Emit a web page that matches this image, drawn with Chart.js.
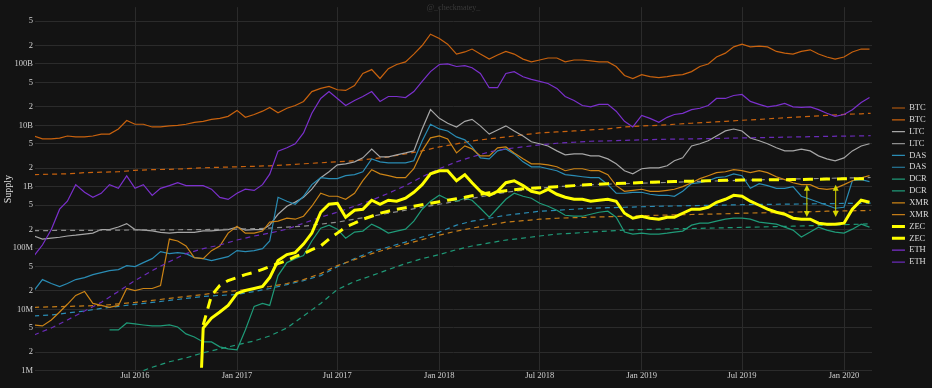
<!DOCTYPE html>
<html>
<head>
<meta charset="utf-8">
<script src="https://cdn.jsdelivr.net/npm/chart.js@4.4.1/dist/chart.umd.min.js"></script>
<style>
  html, body { margin: 0; padding: 0; background: #131313; }
  canvas { display: block; }
</style>
</head>
<body>
<canvas id="supplyChart" width="932" height="388"></canvas>
<script>
// Semi-monthly sample dates for the solid (market) series
var dates = [
    '2016-01-01', '2016-01-16', '2016-02-01', '2016-02-16', '2016-03-01', '2016-03-16', '2016-04-01', '2016-04-16',
    '2016-05-01', '2016-05-16', '2016-06-01', '2016-06-16', '2016-07-01', '2016-07-16', '2016-08-01', '2016-08-16',
    '2016-09-01', '2016-09-16', '2016-10-01', '2016-10-16', '2016-10-29', '2016-11-01', '2016-11-16', '2016-12-01', '2016-12-16',
    '2017-01-01', '2017-01-16', '2017-02-01', '2017-02-16', '2017-03-01', '2017-03-16', '2017-04-01', '2017-04-16',
    '2017-05-01', '2017-05-16', '2017-06-01', '2017-06-16', '2017-07-01', '2017-07-16', '2017-08-01', '2017-08-16',
    '2017-09-01', '2017-09-16', '2017-10-01', '2017-10-16', '2017-11-01', '2017-11-16', '2017-12-01', '2017-12-16',
    '2018-01-01', '2018-01-16', '2018-02-01', '2018-02-16', '2018-03-01', '2018-03-16', '2018-04-01', '2018-04-16',
    '2018-05-01', '2018-05-16', '2018-06-01', '2018-06-16', '2018-07-01', '2018-07-16', '2018-08-01', '2018-08-16',
    '2018-09-01', '2018-09-16', '2018-10-01', '2018-10-16', '2018-11-01', '2018-11-16', '2018-12-01', '2018-12-16',
    '2019-01-01', '2019-01-16', '2019-02-01', '2019-02-16', '2019-03-01', '2019-03-16', '2019-04-01', '2019-04-16',
    '2019-05-01', '2019-05-16', '2019-06-01', '2019-06-16', '2019-07-01', '2019-07-16', '2019-08-01', '2019-08-16',
    '2019-09-01', '2019-09-16', '2019-10-01', '2019-10-16', '2019-11-01', '2019-11-16', '2019-12-01', '2019-12-16',
    '2020-01-01', '2020-01-16', '2020-02-01', '2020-02-16'
];

// Monthly sample dates for the dashed (trend) series
var trendDates = [
    '2016-01-01', '2016-02-01', '2016-03-01', '2016-04-01', '2016-05-01', '2016-06-01',
    '2016-07-01', '2016-08-01', '2016-09-01', '2016-10-01', '2016-11-01', '2016-12-01',
    '2017-01-01', '2017-02-01', '2017-03-01', '2017-04-01', '2017-05-01', '2017-06-01',
    '2017-07-01', '2017-08-01', '2017-09-01', '2017-10-01', '2017-11-01', '2017-12-01',
    '2018-01-01', '2018-02-01', '2018-03-01', '2018-04-01', '2018-05-01', '2018-06-01',
    '2018-07-01', '2018-08-01', '2018-09-01', '2018-10-01', '2018-11-01', '2018-12-01',
    '2019-01-01', '2019-02-01', '2019-03-01', '2019-04-01', '2019-05-01', '2019-06-01',
    '2019-07-01', '2019-08-01', '2019-09-01', '2019-10-01', '2019-11-01', '2019-12-01',
    '2020-01-01', '2020-02-01', '2020-02-18'
];

var btcSupply = [
    6.7e9, 6.0e9, 6.0e9, 6.2e9, 6.7e9, 6.5e9, 6.5e9, 6.7e9, 7.2e9, 7.2e9, 8.7e9, 1.2e10, 1.04e10, 1.04e10, 9.4e9, 9.4e9,
    9.8e9, 1.0e10, 1.04e10, 1.12e10, null, 1.16e10, 1.25e10, 1.3e10, 1.4e10,
    1.75e10, 1.35e10, 1.5e10, 1.7e10, 1.96e10, 1.6e10, 1.9e10, 2.1e10, 2.45e10, 3.55e10, 4.0e10, 4.3e10,
    3.8e10, 3.7e10, 4.45e10, 7.0e10, 8.1e10, 5.8e10, 8.4e10, 9.8e10, 1.08e11, 1.45e11, 2.0e11, 3.06e11,
    2.6e11, 2.1e11, 1.45e11, 1.57e11, 1.75e11, 1.45e11, 1.2e11, 1.4e11, 1.6e11, 1.45e11, 1.2e11, 1.08e11,
    1.16e11, 1.25e11, 1.25e11, 1.08e11, 1.16e11, 1.16e11, 1.12e11, 1.08e11, 1.08e11, 9.1e10, 6.5e10, 5.8e10,
    6.7e10, 6.2e10, 6.0e10, 6.2e10, 6.5e10, 6.7e10, 7.5e10, 9.1e10, 1.0e11, 1.3e11, 1.5e11, 1.9e11,
    2.1e11, 1.9e11, 1.96e11, 1.9e11, 1.6e11, 1.5e11, 1.45e11, 1.6e11, 1.7e11, 1.45e11, 1.3e11, 1.2e11,
    1.3e11, 1.57e11, 1.75e11, 1.75e11
];
var ltcSupply = [
    1.57e8, 1.4e8, 1.45e8, 1.5e8, 1.57e8, 1.62e8, 1.69e8, 1.75e8, 2.0e8, 2.0e8, 2.2e8, 2.5e8, 2.0e8, 1.96e8, 1.9e8, 1.8e8,
    1.75e8, 1.8e8, 1.8e8, 1.8e8, null, 1.9e8, 1.9e8, 1.96e8, 2.0e8,
    2.2e8, 1.96e8, 2.0e8, 2.0e8, 2.36e8, 3.55e8, 4.8e8, 5.6e8, 6.7e8, 9.1e8, 1.4e9, 1.75e9,
    2.27e9, 2.36e9, 2.54e9, 2.95e9, 4.1e9, 3.06e9, 3.06e9, 3.3e9, 3.55e9, 3.83e9, 8.7e9, 1.8e10,
    1.3e10, 1.08e10, 9.4e9, 1.16e10, 1.25e10, 9.8e9, 7.2e9, 8.4e9, 9.8e9, 8.1e9, 6.7e9, 5.4e9,
    5.0e9, 4.6e9, 3.83e9, 3.3e9, 3.42e9, 3.42e9, 3.18e9, 3.18e9, 2.84e9, 2.36e9, 1.82e9, 1.62e9,
    1.96e9, 2.03e9, 2.03e9, 2.19e9, 2.64e9, 2.95e9, 4.6e9, 5.0e9, 5.6e9, 6.7e9, 8.1e9, 8.7e9,
    8.1e9, 6.2e9, 5.6e9, 5.0e9, 4.3e9, 3.83e9, 3.83e9, 4.1e9, 3.83e9, 3.18e9, 2.84e9, 2.64e9,
    2.95e9, 3.83e9, 4.6e9, 5.0e9
];
var dasSupply = [
    2.03e7, 3.06e7, 2.64e7, 2.36e7, 2.64e7, 3.06e7, 3.3e7, 3.69e7, 3.98e7, 4.29e7, 4.45e7, 5.17e7, 4.98e7, 5.79e7, 6.72e7, 8.73e7,
    8.1e7, 8.41e7, 8.1e7, 6.98e7, null, 6.72e7, 6.24e7, 6.72e7, 7.24e7,
    9.07e7, 8.73e7, 9.07e7, 9.77e7, 1.3e8, 6.72e8, 5.79e8, 5.17e8, 6.98e8, 1.08e9, 1.4e9, 1.35e9,
    1.35e9, 1.51e9, 1.57e9, 1.75e9, 2.84e9, 2.54e9, 2.45e9, 2.45e9, 2.45e9, 2.64e9, 5.57e9, 1.04e10,
    8.73e9, 8.1e9, 6.47e9, 5.79e9, 4.45e9, 2.95e9, 2.84e9, 3.83e9, 4.13e9, 3.42e9, 2.54e9, 2.11e9,
    2.11e9, 1.96e9, 1.82e9, 1.57e9, 1.51e9, 1.45e9, 1.4e9, 1.4e9, 1.08e9, 7.81e8, 7.81e8, 8.1e8,
    8.1e8, 7.52e8, 7.24e8, 7.24e8, 6.98e8, 8.41e8, 1.12e9, 1.16e9, 1.25e9, 1.4e9, 1.45e9, 1.62e9,
    1.51e9, 9.41e8, 1.12e9, 1.04e9, 9.41e8, 9.41e8, 1.0e9, 6.98e8, 6.24e8, 5.57e8, 4.98e8, 4.45e8,
    4.62e8, 1.25e9, 1.3e9, 1.21e9
];
var dcrSupply = [
    null, null, null, null, null, null, null, null, null, 4.62e6, 4.62e6, 6.01e6, 5.79e6, 5.57e6, 5.37e6, 5.37e6,
    5.57e6, 5.17e6, 3.98e6, 3.55e6, null, 2.95e6, 2.95e6, 2.45e6, 2.27e6,
    2.19e6, 4.62e6, 1.12e7, 1.25e7, 1.16e7, 3.55e7, 5.79e7, 6.72e7, 7.52e7, 1.3e8, 2.11e8, 2.36e8,
    2.03e8, 1.45e8, 1.82e8, 1.89e8, 2.45e8, 2.11e8, 1.75e8, 1.89e8, 2.03e8, 2.74e8, 4.29e8, 5.79e8,
    7.24e8, 6.24e8, 5.79e8, 6.47e8, 6.01e8, 4.45e8, 3.18e8, 4.45e8, 6.24e8, 7.81e8, 6.98e8, 6.47e8,
    5.37e8, 4.8e8, 4.13e8, 3.42e8, 3.3e8, 3.3e8, 3.55e8, 3.83e8, 3.98e8, 3.18e8, 1.82e8, 1.69e8,
    1.75e8, 1.69e8, 1.69e8, 1.75e8, 1.82e8, 1.89e8, 2.36e8, 2.54e8, 2.54e8, 2.74e8, 2.95e8, 3.06e8,
    3.06e8, 2.95e8, 2.64e8, 2.54e8, 2.45e8, 2.19e8, 1.96e8, 1.51e8, 1.82e8, 2.19e8, 1.96e8, 1.82e8,
    1.75e8, 2.03e8, 2.45e8, 2.19e8
];
var xmrSupply = [
    5.57e6, 5.37e6, 6.72e6, 9.07e6, 1.21e7, 1.69e7, 1.96e7, 1.25e7, 1.16e7, 1.08e7, 1.16e7, 2.19e7, 2.03e7, 2.19e7, 2.19e7, 2.45e7,
    1.4e8, 1.3e8, 1.08e8, 6.98e7, null, 6.72e7, 9.07e7, 1.08e8, 1.75e8,
    2.27e8, 1.75e8, 1.75e8, 1.89e8, 2.64e8, 2.74e8, 3.06e8, 2.95e8, 3.3e8, 4.8e8, 7.81e8, 6.98e8,
    6.98e8, 6.24e8, 7.81e8, 1.25e9, 1.89e9, 1.62e9, 1.51e9, 1.4e9, 1.4e9, 1.96e9, 3.83e9, 6.24e9,
    6.72e9, 6.01e9, 3.55e9, 4.62e9, 4.13e9, 3.18e9, 3.18e9, 4.29e9, 4.45e9, 3.55e9, 2.84e9, 2.36e9,
    2.36e9, 2.27e9, 2.11e9, 1.82e9, 1.96e9, 1.96e9, 1.82e9, 1.82e9, 1.57e9, 1.04e9, 8.41e8, 8.73e8,
    9.07e8, 8.41e8, 8.41e8, 8.73e8, 9.07e8, 1.0e9, 1.16e9, 1.35e9, 1.51e9, 1.69e9, 1.75e9, 1.89e9,
    1.82e9, 1.69e9, 1.82e9, 1.69e9, 1.45e9, 1.3e9, 1.16e9, 1.08e9, 1.08e9, 9.41e8, 9.07e8, 9.41e8,
    1.08e9, 1.25e9, 1.4e9, 1.51e9
];
var zecSupply = [
    null, null, null, null, null, null, null, null, null, null, null, null, null, null, null, null,
    null, null, null, null, 1.12e6, 4.98e6, 7.24e6, 9.07e6, 1.16e7,
    1.82e7, 2.03e7, 2.19e7, 2.36e7, 3.3e7, 6.24e7, 7.81e7, 8.41e7, 1.16e8, 1.75e8, 3.83e8, 5.17e8,
    5.37e8, 3.18e8, 4.13e8, 4.29e8, 6.01e8, 5.17e8, 6.01e8, 5.79e8, 6.47e8, 8.1e8, 1.08e9, 1.62e9,
    1.82e9, 1.82e9, 1.25e9, 1.57e9, 1.16e9, 8.41e8, 7.24e8, 8.41e8, 1.16e9, 1.25e9, 1.04e9, 8.41e8,
    7.81e8, 9.07e8, 7.52e8, 6.72e8, 6.24e8, 6.24e8, 5.79e8, 6.01e8, 6.24e8, 5.79e8, 3.69e8, 3.06e8,
    3.3e8, 3.06e8, 2.95e8, 3.18e8, 3.18e8, 3.69e8, 4.29e8, 4.29e8, 4.62e8, 5.57e8, 6.24e8, 7.24e8,
    6.98e8, 5.79e8, 4.98e8, 4.29e8, 3.83e8, 3.55e8, 3.06e8, 2.95e8, 2.95e8, 2.54e8, 2.45e8, 2.45e8,
    2.54e8, 4.29e8, 6.01e8, 5.57e8
];
var zecTrend = [
    null, null, null, null, null, null, null, null, null, null, null, null, null, null, null, null,
    null, null, null, null, null, 5.57e6, 1.69e7, 2.45e7, 2.95e7,
    3.3e7, 3.69e7, 4.02e7, 4.5e7, 4.98e7, 5.57e7, 6.24e7, 7.24e7, 8.1e7, 9.41e7, 1.08e8, 1.4e8,
    1.75e8, 2.19e8, 2.54e8, 2.95e8, 3.3e8, 3.69e8, 3.98e8, 4.29e8, 4.54e8, 4.8e8, 5.07e8, 5.37e8,
    5.68e8, 6.01e8, 6.36e8, 6.72e8, 7.1e8, 7.52e8, 7.95e8, 8.25e8, 8.57e8, 8.9e8, 9.24e8, 9.41e8,
    9.6e8, 9.8e8, 1.0e9, 1.02e9, 1.04e9, 1.06e9, 1.08e9, 1.1e9, 1.12e9, 1.13e9, 1.14e9, 1.15e9,
    1.17e9, 1.18e9, 1.19e9, 1.2e9, 1.21e9, 1.22e9, 1.23e9, 1.24e9, 1.25e9, 1.26e9, 1.27e9, 1.27e9,
    1.28e9, 1.28e9, 1.29e9, 1.29e9, 1.3e9, 1.3e9, 1.31e9, 1.31e9, 1.32e9, 1.32e9, 1.33e9, 1.33e9,
    1.34e9, 1.34e9, 1.35e9, 1.35e9
];
var ethSupply = [
    7.5e7, 1.12e8, 2.0e8, 4.3e8, 5.8e8, 1.08e9, 8.1e8, 6.7e8, 7.8e8, 1.08e9, 9.4e8, 1.5e9, 9.4e8, 1.08e9, 7.2e8, 9.4e8,
    1.04e9, 1.16e9, 1.04e9, 1.04e9, null, 1.04e9, 9.1e8, 6.7e8, 6.2e8,
    7.8e8, 9.1e8, 8.7e8, 1.08e9, 1.6e9, 3.8e9, 4.3e9, 5.0e9, 7.5e9, 1.57e10, 2.74e10, 3.55e10,
    2.74e10, 2.1e10, 2.54e10, 2.95e10, 3.55e10, 2.45e10, 2.95e10, 2.95e10, 2.84e10, 3.55e10, 5.2e10, 7.5e10,
    9.8e10, 1.0e11, 9.1e10, 9.4e10, 8.7e10, 7.0e10, 4.1e10, 4.1e10, 7.0e10, 7.5e10, 6.2e10, 5.6e10,
    5.2e10, 4.8e10, 4.0e10, 2.95e10, 2.54e10, 2.1e10, 2.0e10, 2.2e10, 2.2e10, 1.7e10, 1.16e10, 9.4e9,
    1.45e10, 1.3e10, 1.12e10, 1.35e10, 1.5e10, 1.57e10, 1.8e10, 1.9e10, 2.1e10, 2.74e10, 2.74e10, 3.06e10,
    3.18e10, 2.45e10, 2.2e10, 2.0e10, 2.1e10, 2.27e10, 2.0e10, 1.96e10, 2.0e10, 1.8e10, 1.57e10, 1.4e10,
    1.5e10, 1.8e10, 2.36e10, 2.84e10
];

// Dashed trend lines (monthly)
var btcTrend = [
    1.57e9, 1.6e9, 1.62e9, 1.69e9, 1.72e9, 1.75e9, 1.85e9, 1.89e9, 1.92e9, 1.96e9, 2.03e9, 2.07e9,
    2.11e9, 2.15e9, 2.19e9, 2.27e9, 2.36e9, 2.45e9, 2.54e9, 2.64e9, 2.84e9, 3.06e9, 3.42e9, 3.83e9,
    4.45e9, 4.98e9, 5.57e9, 6.01e9, 6.47e9, 6.98e9, 7.52e9, 7.81e9, 8.1e9, 8.41e9, 8.73e9, 9.41e9,
    9.77e9, 1.0e10, 1.04e10, 1.08e10, 1.12e10, 1.16e10, 1.21e10, 1.25e10, 1.3e10, 1.35e10, 1.4e10, 1.45e10,
    1.51e10, 1.54e10, 1.57e10
];
var ltcTrend = [
    1.92e8, 1.93e8, 1.94e8, 1.94e8, 1.95e8, 1.96e8, 1.97e8, 1.97e8, 1.98e8, 1.99e8, 2.0e8, 2.02e8,
    2.03e8, 2.07e8, 2.11e8, 2.19e8, 2.27e8, 2.45e8, 2.64e8, 2.95e8, 3.3e8, 3.69e8, 4.13e8, 4.62e8,
    5.17e8, 5.79e8, 6.47e8, 7.24e8, 8.1e8, 8.73e8, 9.41e8, 1.0e9, 1.04e9, 1.08e9, 1.1e9, 1.12e9,
    1.14e9, 1.16e9, 1.18e9, 1.21e9, 1.23e9, 1.25e9, 1.27e9, 1.29e9, 1.32e9, 1.34e9, 1.35e9, 1.37e9,
    1.38e9, 1.4e9, 1.41e9
];
var dasTrend = [
    7.81e6, 8.1e6, 8.73e6, 9.41e6, 1.04e7, 1.12e7, 1.21e7, 1.3e7, 1.4e7, 1.51e7, 1.62e7, 1.69e7,
    1.75e7, 1.96e7, 2.19e7, 2.54e7, 2.95e7, 3.55e7, 4.98e7, 6.72e7, 8.73e7, 1.04e8, 1.25e8, 1.51e8,
    1.82e8, 2.36e8, 2.74e8, 3.06e8, 3.42e8, 3.69e8, 3.98e8, 4.13e8, 4.29e8, 4.45e8, 4.54e8, 4.62e8,
    4.71e8, 4.8e8, 4.85e8, 4.91e8, 4.96e8, 5.02e8, 5.08e8, 5.14e8, 5.17e8, 5.21e8, 5.25e8, 5.29e8,
    5.33e8, 5.37e8, 5.39e8
];
var dcrTrend = [
    null, null, null, null, null, 6.9e5, 8.9e5, 1.14e6, 1.4e6, 1.62e6, 1.96e6, 2.27e6,
    2.64e6, 3.06e6, 3.69e6, 4.98e6, 7.81e6, 1.25e7, 2.11e7, 2.84e7, 3.55e7, 4.45e7, 5.57e7, 6.72e7,
    7.81e7, 9.41e7, 1.08e8, 1.21e8, 1.35e8, 1.45e8, 1.57e8, 1.69e8, 1.75e8, 1.82e8, 1.89e8, 1.96e8,
    2.0e8, 2.03e8, 2.06e8, 2.08e8, 2.11e8, 2.14e8, 2.17e8, 2.2e8, 2.24e8, 2.27e8, 2.31e8, 2.36e8,
    2.4e8, 2.45e8, 2.5e8
];
var xmrTrend = [
    1.08e7, 1.1e7, 1.12e7, 1.14e7, 1.16e7, 1.23e7, 1.3e7, 1.4e7, 1.51e7, 1.62e7, 1.75e7, 1.89e7,
    2.03e7, 2.19e7, 2.36e7, 2.64e7, 3.06e7, 3.83e7, 5.17e7, 6.47e7, 8.1e7, 9.77e7, 1.16e8, 1.37e8,
    1.62e8, 1.89e8, 2.11e8, 2.36e8, 2.64e8, 2.79e8, 2.95e8, 3.06e8, 3.12e8, 3.18e8, 3.24e8, 3.3e8,
    3.36e8, 3.42e8, 3.47e8, 3.52e8, 3.57e8, 3.62e8, 3.69e8, 3.74e8, 3.79e8, 3.85e8, 3.9e8, 3.98e8,
    4.02e8, 4.07e8, 4.1e8
];
var ethTrend = [
    3.83e6, 4.98e6, 6.72e6, 9.41e6, 1.3e7, 1.96e7, 2.95e7, 4.29e7, 6.01e7, 8.1e7, 9.77e7, 1.12e8,
    1.35e8, 1.57e8, 1.75e8, 2.03e8, 2.54e8, 3.18e8, 3.83e8, 4.8e8, 6.01e8, 7.81e8, 1.04e9, 1.45e9,
    1.96e9, 2.54e9, 3.06e9, 3.69e9, 4.13e9, 4.45e9, 4.8e9, 5.1e9, 5.3e9, 5.5e9, 5.57e9, 5.7e9,
    5.79e9, 5.9e9, 5.95e9, 6.01e9, 6.08e9, 6.15e9, 6.24e9, 6.3e9, 6.37e9, 6.45e9, 6.52e9, 6.6e9,
    6.67e9, 6.72e9, 6.77e9
];

// Double-headed arrows between ZEC dashed and ZEC solid
var arrowDates = ['2019-10-26', '2019-12-17'];
var arrowTop = [1.07e9, 1.07e9];
var arrowBottom = [3.2e8, 3.2e8];

var xTickDates = ['2016-07-01', '2017-01-01', '2017-07-01', '2018-01-01', '2018-07-01', '2019-01-01', '2019-07-01', '2020-01-01'];
var xTickLabels = ['Jul 2016', 'Jan 2017', 'Jul 2017', 'Jan 2018', 'Jul 2018', 'Jan 2019', 'Jul 2019', 'Jan 2020'];
var yTicks = [1e6, 2e6, 5e6, 1e7, 2e7, 5e7, 1e8, 2e8, 5e8, 1e9, 2e9, 5e9, 1e10, 2e10, 5e10, 1e11, 2e11, 5e11];
var yTickLabels = ['1M', '2', '5', '10M', '2', '5', '100M', '2', '5', '1B', '2', '5', '10B', '2', '5', '100B', '2', '5'];
var watermark = '@_checkmatey_';

function makeLine(label, xs, values, color, width, dash, order) {
    return {
        label: label,
        data: values.map(function (v, i) { return { x: Date.parse(xs[i]), y: v }; }),
        borderColor: color,
        backgroundColor: color,
        borderWidth: width,
        borderDash: dash,
        pointRadius: 0,
        pointHoverRadius: 0,
        fill: false,
        tension: 0,
        spanGaps: true,
        order: order
    };
}

var thin = [5, 4];
var datasets = [
    makeLine('BTC', dates, btcSupply, '#c8620e', 1.2, [], 20),
    makeLine('BTC', trendDates, btcTrend, '#c8620e', 1.2, thin, 19),
    makeLine('LTC', dates, ltcSupply, '#a6a6a6', 1.2, [], 18),
    makeLine('LTC', trendDates, ltcTrend, '#8e8e8e', 1.2, thin, 17),
    makeLine('DAS', dates, dasSupply, '#2a8cb4', 1.2, [], 16),
    makeLine('DAS', trendDates, dasTrend, '#2a8cb4', 1.2, thin, 15),
    makeLine('DCR', dates, dcrSupply, '#1f9a78', 1.2, [], 14),
    makeLine('DCR', trendDates, dcrTrend, '#1f9a78', 1.2, thin, 13),
    makeLine('XMR', dates, xmrSupply, '#cc8416', 1.2, [], 12),
    makeLine('XMR', trendDates, xmrTrend, '#c47c18', 1.2, thin, 11),
    makeLine('ZEC', dates, zecSupply, '#ffff00', 3, [], 0),
    makeLine('ZEC', dates, zecTrend, '#ffff00', 3, [10, 7], 1),
    makeLine('ETH', dates, ethSupply, '#7b30cc', 1.2, [], 9),
    makeLine('ETH', trendDates, ethTrend, '#6a2bb8', 1.2, thin, 8)
];

// Legend placement and extra drawings
var extras = {
    id: 'extras',
    afterLayout: function (chart) {
        var lg = chart.legend;
        lg.left = 888.6; lg.right = 932; lg.top = 100.4; lg.bottom = 388;
    },
    beforeDatasetsDraw: function (chart) {
        var c = chart.ctx, a = chart.chartArea;
        c.save();
        c.fillStyle = '#3a3a3a';
        c.font = "8px 'Liberation Serif'";
        c.textAlign = 'center';
        c.textBaseline = 'middle';
        c.fillText(watermark, (a.left + a.right) / 2, 8);
        c.restore();
    },
    afterDatasetsDraw: function (chart) {
        var c = chart.ctx, xs = chart.scales.x, ys = chart.scales.y;
        arrowDates.forEach(function (d, i) {
            var x = xs.getPixelForValue(Date.parse(d));
            var y1 = ys.getPixelForValue(arrowTop[i]);
            var y2 = ys.getPixelForValue(arrowBottom[i]);
            c.save();
            c.strokeStyle = '#d6d600';
            c.fillStyle = '#d6d600';
            c.lineWidth = 1;
            c.beginPath(); c.moveTo(x, y1 + 5); c.lineTo(x, y2 - 5); c.stroke();
            c.beginPath(); c.moveTo(x, y1); c.lineTo(x - 3, y1 + 6); c.lineTo(x + 3, y1 + 6); c.closePath(); c.fill();
            c.beginPath(); c.moveTo(x, y2); c.lineTo(x - 3, y2 - 6); c.lineTo(x + 3, y2 - 6); c.closePath(); c.fill();
            c.restore();
        });
    }
};

Chart.defaults.font.family = "'Liberation Serif', 'DejaVu Serif', serif";
Chart.defaults.color = '#d6d6d6';

var ctx = document.getElementById('supplyChart').getContext('2d');
var supplyChart = new Chart(ctx, {
    type: 'line',
    data: { datasets: datasets },
    plugins: [extras],
    options: {
        responsive: false,
        animation: false,
        devicePixelRatio: 1,
        layout: { padding: { left: 0, right: 60, top: 5, bottom: 0 } },
        scales: {
            x: {
                type: 'linear',
                min: Date.UTC(2016, 0, 2, 14),
                max: Date.UTC(2020, 1, 20, 12),
                afterBuildTicks: function (scale) {
                    scale.ticks = xTickDates.map(function (d) { return { value: Date.parse(d) }; });
                },
                afterFit: function (scale) { scale.height = 17; },
                ticks: {
                    autoSkip: false,
                    maxRotation: 0,
                    padding: 0,
                    color: '#d0d0d0',
                    font: { size: 8.5 },
                    callback: function (v, i) { return xTickLabels[i]; }
                },
                grid: { color: '#2b2b2b', drawTicks: false },
                border: { display: false }
            },
            y: {
                type: 'logarithmic',
                min: 9.9e5,
                max: 8.45e11,
                afterBuildTicks: function (scale) {
                    scale.ticks = yTicks.map(function (v) { return { value: v }; });
                },
                afterFit: function (scale) { scale.width = 35; },
                ticks: {
                    autoSkip: false,
                    padding: 2,
                    color: '#d0d0d0',
                    font: { size: 8.5 },
                    callback: function (v, i) { return yTickLabels[i]; }
                },
                grid: { color: '#2b2b2b', drawTicks: false },
                border: { display: false },
                title: { display: true, text: 'Supply', color: '#e0e0e0', font: { size: 10 }, padding: { top: 2, bottom: 0 } }
            }
        },
        plugins: {
            tooltip: { enabled: false },
            legend: {
                position: 'chartArea',
                align: 'start',
                labels: {
                    usePointStyle: true,
                    pointStyle: 'line',
                    pointStyleWidth: 13,
                    boxHeight: 8.5,
                    padding: 3.35,
                    color: '#dcdcdc',
                    font: { size: 8.5 },
                    sort: function (a, b) { return a.datasetIndex - b.datasetIndex; }
                }
            }
        }
    }
});
</script>
</body>
</html>
